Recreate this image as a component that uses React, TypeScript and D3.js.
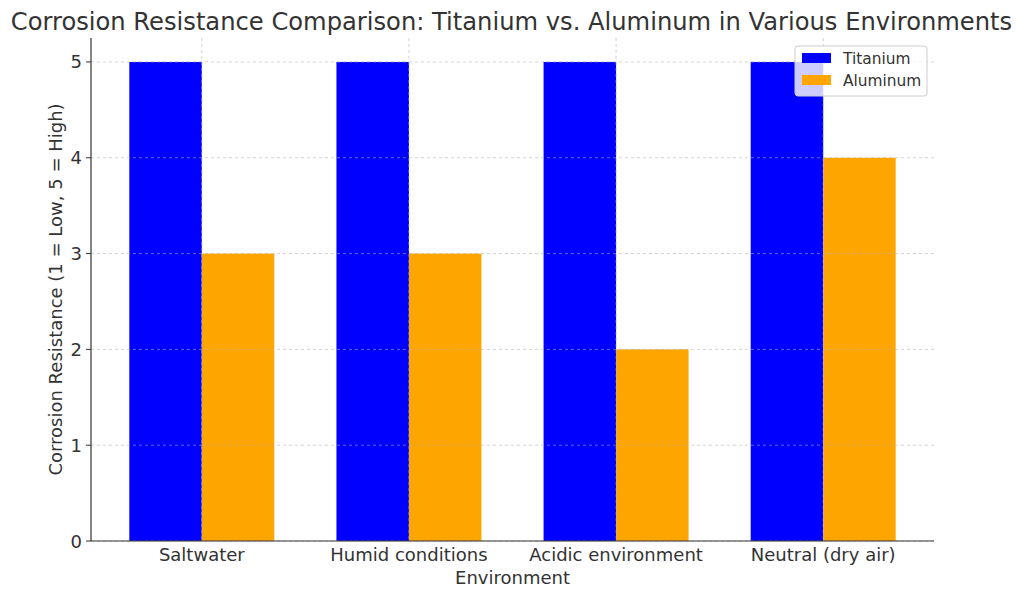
import React, { useEffect, useRef } from 'react';
import * as d3 from 'd3';

const environments = ['Saltwater', 'Humid conditions', 'Acidic environment', 'Neutral (dry air)'];
const titanium = [5, 5, 5, 5];
const aluminum = [3, 3, 2, 4];
const yTicks = [0, 1, 2, 3, 4, 5];
const seriesNames = ['Titanium', 'Aluminum'];
const seriesColors = ['#0000ff', '#ffa500'];

const W = 1024;
const H = 599;

const App: React.FC = () => {
  const svgRef = useRef<SVGSVGElement>(null);

  useEffect(() => {
    if (!svgRef.current) return;
    const svg = d3.select(svgRef.current);
    svg.selectAll('*').remove();

    const left = 91, right = 934, top = 38, bottom = 541;
    const font = 'DejaVu Sans, sans-serif';
    const textColor = '#333333';
    const barW = 0.35;

    // matplotlib-style linear x: bars span -0.35..3.35 plus 5% margins
    const x = d3.scaleLinear().domain([-0.535, 3.535]).range([left, right]);
    const y = d3.scaleLinear().domain([0, 5.25]).range([bottom, top]);

    const series = [titanium, aluminum];

    // bars
    series.forEach((vals, s) => {
      svg.append('g')
        .selectAll('rect')
        .data(vals)
        .join('rect')
        .attr('x', (_, i) => x(i + (s === 0 ? -barW : 0)))
        .attr('width', x(barW) - x(0))
        .attr('y', d => y(d))
        .attr('height', d => y(0) - y(d))
        .attr('fill', seriesColors[s]);
    });

    // grid drawn above bars
    const grid = svg.append('g')
      .attr('stroke', '#b0b0b0')
      .attr('stroke-opacity', 0.7)
      .attr('stroke-width', 0.8)
      .attr('stroke-dasharray', '3,3');
    grid.selectAll('line.h')
      .data(yTicks)
      .join('line')
      .attr('class', 'h')
      .attr('x1', left).attr('x2', right)
      .attr('y1', d => y(d)).attr('y2', d => y(d));
    grid.selectAll('line.v')
      .data(environments)
      .join('line')
      .attr('class', 'v')
      .attr('x1', (_, i) => x(i)).attr('x2', (_, i) => x(i))
      .attr('y1', top).attr('y2', bottom);

    // spines
    svg.append('line')
      .attr('x1', left).attr('x2', left).attr('y1', top).attr('y2', bottom)
      .attr('stroke', textColor).attr('stroke-width', 1.2);
    svg.append('line')
      .attr('x1', left).attr('x2', right).attr('y1', bottom).attr('y2', bottom)
      .attr('stroke', textColor).attr('stroke-width', 1.2);

    // y ticks
    const yt = svg.append('g');
    yTicks.forEach(t => {
      yt.append('line')
        .attr('x1', left - 5).attr('x2', left).attr('y1', y(t)).attr('y2', y(t))
        .attr('stroke', textColor).attr('stroke-width', 1);
      yt.append('text')
        .attr('x', left - 9).attr('y', y(t))
        .attr('text-anchor', 'end').attr('dominant-baseline', 'central')
        .attr('font-family', font).attr('font-size', 18).attr('fill', textColor)
        .text(t);
    });

    // x tick labels
    environments.forEach((e, i) => {
      svg.append('text')
        .attr('x', x(i)).attr('y', bottom + 20)
        .attr('text-anchor', 'middle')
        .attr('font-family', font).attr('font-size', 18).attr('fill', textColor)
        .text(e);
    });

    // axis labels
    svg.append('text')
      .attr('x', (left + right) / 2).attr('y', 584)
      .attr('text-anchor', 'middle')
      .attr('font-family', font).attr('font-size', 18).attr('fill', textColor)
      .text('Environment');
    svg.append('text')
      .attr('transform', `translate(62,${(top + bottom) / 2}) rotate(-90)`)
      .attr('text-anchor', 'middle')
      .attr('font-family', font).attr('font-size', 18).attr('fill', textColor)
      .text('Corrosion Resistance (1 = Low, 5 = High)');

    // title
    svg.append('text')
      .attr('x', 511.5).attr('y', 30)
      .attr('text-anchor', 'middle')
      .attr('font-family', font).attr('font-size', 24.2).attr('fill', textColor)
      .text('Corrosion Resistance Comparison: Titanium vs. Aluminum in Various Environments');

    // legend
    const lg = svg.append('g').attr('transform', 'translate(795,46)');
    lg.append('rect')
      .attr('width', 132).attr('height', 50).attr('rx', 3)
      .attr('fill', 'white').attr('fill-opacity', 0.8)
      .attr('stroke', '#cccccc').attr('stroke-width', 1);
    seriesNames.forEach((n, i) => {
      lg.append('rect')
        .attr('x', 7).attr('y', 7 + i * 22).attr('width', 29).attr('height', 10)
        .attr('fill', seriesColors[i]);
      lg.append('text')
        .attr('x', 48).attr('y', 13 + i * 22)
        .attr('dominant-baseline', 'central')
        .attr('font-family', font).attr('font-size', 15.4).attr('fill', textColor)
        .text(n);
    });
  }, []);

  return (
    <svg ref={svgRef} width={W} height={H} style={{ position: 'absolute', left: 0, top: 0 }} />
  );
};

export default App;
